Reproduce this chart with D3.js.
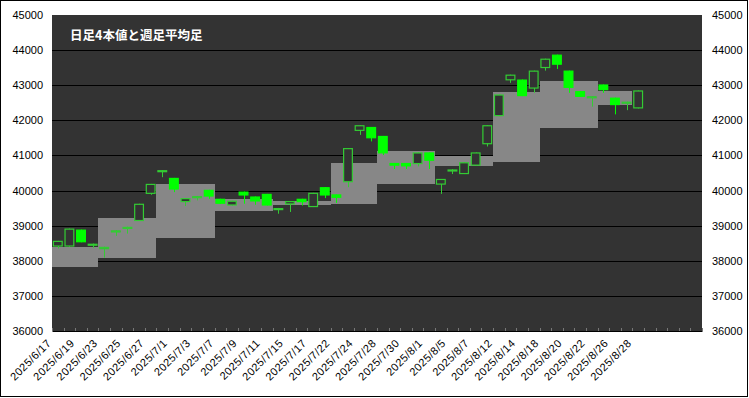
<!DOCTYPE html>
<html>
<head>
<meta charset="utf-8">
<script src="https://cdn.jsdelivr.net/npm/d3@7"></script>
<style>
  body { margin: 0; background: #fff; }
  svg text { font-family: "Liberation Sans", Arial, sans-serif; }
</style>
</head>
<body>
<svg id="chart" width="749" height="398"></svg>
<script>
// daily candles (trading days), the chart keeps a few empty slots at the end
const dates = [
  "2025/6/17","2025/6/18","2025/6/19","2025/6/20","2025/6/23","2025/6/24","2025/6/25","2025/6/26","2025/6/27",
  "2025/6/30","2025/7/1","2025/7/2","2025/7/3","2025/7/4","2025/7/7","2025/7/8","2025/7/9","2025/7/10",
  "2025/7/11","2025/7/14","2025/7/15","2025/7/16","2025/7/17","2025/7/18","2025/7/22","2025/7/23","2025/7/24",
  "2025/7/25","2025/7/28","2025/7/29","2025/7/30","2025/7/31","2025/8/1","2025/8/4","2025/8/5","2025/8/6",
  "2025/8/7","2025/8/8","2025/8/12","2025/8/13","2025/8/14","2025/8/15","2025/8/18","2025/8/19","2025/8/20",
  "2025/8/21","2025/8/22","2025/8/25","2025/8/26","2025/8/27","2025/8/28"
];
const blankSlots = ["", "", "", "", ""];

const open = [
  38406,38406,38887,38460,38330,38840,38940,39133,39906,
  40550,40360,39671,39800,40020,39765,39575,39970,39830,
  39905,39460,39605,39765,39530,40095,39890,40237,41700,
  41810,41555,40785,40785,40755,41085,40170,40570,40470,
  40710,41320,42120,43140,43160,42905,43490,43870,43415,
  42830,42660,43020,42645,42510,42340
];
const high = [
  38567,38916,38887,38490,38400,38870,38970,39623,40189,
  40585,40360,39784,39845,40020,39765,39710,39970,39830,
  39905,39505,39700,39765,39935,40095,39890,41208,41860,
  41810,41555,40785,40785,41085,41085,40330,40605,40805,
  41085,41860,42735,43300,43160,43415,43755,43870,43415,
  42830,42690,43020,42645,42535,42850
];
const low = [
  38350,38400,38528,38370,38090,38710,38775,39133,39880,
  40380,39954,39558,39720,39765,39620,39570,39625,39595,
  39575,39340,39390,39575,39530,39785,39650,40095,41585,
  41400,41010,40613,40613,40690,40615,39905,40470,40470,
  40710,41255,42120,43067,42690,42785,43415,43463,42784,
  42670,42390,42784,42170,42290,42340
];
const close = [
  38567,38916,38528,38485,38395,38865,38965,39623,40189,
  40580,40030,39784,39840,39830,39625,39710,39860,39690,
  39575,39500,39700,39670,39935,39860,39795,41208,41860,
  41490,41060,40710,40690,41085,40850,40330,40600,40805,
  41085,41860,42735,43300,42690,43415,43755,43585,42925,
  42670,42685,42860,42435,42530,42850
];

// weekly heikin-ashi body, repeated on each day of the week
const weekLow = [
  37810,37810,37810,37810,
  38090,38090,38090,38090,38090,
  38650,38650,38650,38650,38650,
  39430,39430,39430,39430,39430,
  39575,39575,39575,39575,39575,
  39625,39625,39625,39625,
  40190,40190,40190,40190,40190,
  40700,40700,40700,40700,40700,
  40800,40800,40800,40800,
  41795,41795,41795,41795,41795,
  42450,42450,42450,
  null
];
const weekHigh = [
  38380,38380,38380,38380,
  39210,39210,39210,39210,39210,
  40190,40190,40190,40190,40190,
  39770,39770,39770,39770,39770,
  39690,39690,39690,39690,39690,
  40785,40785,40785,40785,
  41115,41115,41115,41115,41115,
  40990,40990,40990,40990,40990,
  42800,42800,42800,42800,
  43115,43115,43115,43115,43115,
  42830,42830,42830,
  null
];

const yTicks = [36000, 37000, 38000, 39000, 40000, 41000, 42000, 43000, 44000, 45000];
const title = "日足4本値と週足平均足";

// --------------------------------------------------------------------

const svg = d3.select("#chart");
const margin = {top: 15, right: 47, bottom: 65, left: 52};
const width = 749 - margin.left - margin.right;
const height = 398 - margin.top - margin.bottom - 2;

const categories = dates.concat(blankSlots);

const x = d3.scaleBand()
  .domain(d3.range(categories.length))
  .range([0, width]);

const y = d3.scaleLinear()
  .domain([36000, 45000])
  .range([height, 0]);

const upColor = "#33cc33", downColor = "#00ff00";

svg.append("rect")
  .attr("x", 0.5).attr("y", 0.5)
  .attr("width", 747).attr("height", 396)
  .attr("fill", "#fff")
  .attr("stroke", "#000");

const g = svg.append("g")
  .attr("transform", `translate(${margin.left},${margin.top})`);

g.append("rect")
  .attr("width", width)
  .attr("height", height)
  .attr("fill", "#333333");

// gridlines
g.append("g")
  .selectAll("line")
  .data(yTicks.filter(t => t > 36000 && t < 45000))
  .join("line")
  .attr("x1", 0).attr("x2", width)
  .attr("y1", d => Math.round(y(d)) + 0.5)
  .attr("y2", d => Math.round(y(d)) + 0.5)
  .attr("stroke", "#000");

// weekly boxes (one column per day, no gap)
const days = d3.range(dates.length);

g.append("g")
  .attr("shape-rendering", "crispEdges")
  .selectAll("rect")
  .data(days.filter(i => weekLow[i] != null))
  .join("rect")
  .attr("x", i => Math.round(x(i)))
  .attr("width", i => Math.round(x(i) + x.bandwidth()) - Math.round(x(i)))
  .attr("y", i => Math.round(y(weekHigh[i])))
  .attr("height", i => Math.round(y(weekLow[i])) - Math.round(y(weekHigh[i])))
  .attr("fill", "#878787");

// category tick marks
g.append("g")
  .selectAll("line")
  .data(d3.range(categories.length + 1))
  .join("line")
  .attr("x1", i => Math.round(i * x.step()) + 0.5)
  .attr("x2", i => Math.round(i * x.step()) + 0.5)
  .attr("y1", height - 3).attr("y2", height)
  .attr("stroke", "#777");

// candles
const bodyW = x.bandwidth() * 0.84;
const cx = i => x(i) + x.bandwidth() / 2;
const isUp = i => close[i] >= open[i];

g.append("g")
  .selectAll("line")
  .data(days)
  .join("line")
  .attr("x1", i => Math.round(cx(i)) + 0.5)
  .attr("x2", i => Math.round(cx(i)) + 0.5)
  .attr("y1", i => y(high[i]))
  .attr("y2", i => y(low[i]))
  .attr("stroke", i => isUp(i) ? upColor : downColor);

g.append("g")
  .selectAll("rect")
  .data(days)
  .join("rect")
  .attr("x", i => cx(i) - bodyW / 2 + 0.5)
  .attr("width", bodyW - 1)
  .attr("y", i => y(Math.max(open[i], close[i])) + 0.5)
  .attr("height", i => Math.max(1, Math.abs(y(open[i]) - y(close[i])) - 1))
  .attr("fill", i => isUp(i) ? "#333333" : downColor)
  .attr("stroke", i => isUp(i) ? upColor : downColor)
  .attr("stroke-width", 1.2);

// y axes on both sides
const yLeft = g.append("g")
  .call(d3.axisLeft(y).tickValues(yTicks).tickSize(0).tickPadding(9).tickFormat(d3.format("d")));
const yRight = g.append("g")
  .attr("transform", `translate(${width},0)`)
  .call(d3.axisRight(y).tickValues(yTicks).tickSize(0).tickPadding(10).tickFormat(d3.format("d")));
[yLeft, yRight].forEach(a => {
  a.select(".domain").remove();
  a.selectAll("text").attr("font-size", 11).attr("fill", "#000")
    .style("font-family", "'Liberation Sans', Arial, sans-serif");
});

// x labels, every second day
const xAxis = g.append("g")
  .attr("transform", `translate(0,${height})`)
  .call(d3.axisBottom(x)
    .tickValues(d3.range(0, categories.length, 2).filter(i => categories[i] !== ""))
    .tickFormat(i => categories[i])
    .tickSize(0));
xAxis.select(".domain").attr("stroke", "#000");
xAxis.selectAll("text")
  .attr("font-size", 11)
  .attr("fill", "#000")
  .style("font-family", "'Liberation Sans', Arial, sans-serif")
  .style("letter-spacing", "0.4px")
  .attr("text-anchor", "end")
  .attr("x", 0)
  .attr("y", 0)
  .attr("dy", 0)
  .attr("transform", "translate(-6,13) rotate(-45)");

// title
g.append("text")
  .attr("x", 18)
  .attr("y", 25)
  .attr("fill", "#fff")
  .attr("font-size", 12.5)
  .attr("font-weight", "bold")
  .style("font-family", "'Noto Sans CJK JP', sans-serif")
  .text(title);
</script>
</body>
</html>
